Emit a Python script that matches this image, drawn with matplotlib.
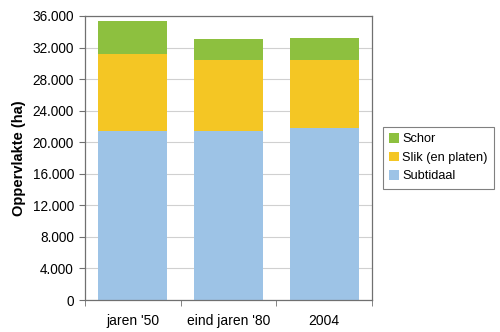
import matplotlib.pyplot as plt
from matplotlib.ticker import FuncFormatter, FixedLocator

plt.rcParams["font.family"] = ["Liberation Sans", "DejaVu Sans"]

categories = ["jaren '50", "eind jaren '80", "2004"]
subtidaal = [21450, 21450, 21750]
slik = [9770, 8970, 8670]
schor = [4150, 2630, 2790]

c_sub = "#9dc3e6"
c_slik = "#f4c624"
c_schor = "#8dc03f"

fig = plt.figure(figsize=(5.0, 3.32), dpi=100)
ax = fig.add_axes([85 / 500, 32 / 332, 287 / 500, 284 / 332])

x = range(len(categories))
b1 = ax.bar(x, subtidaal, width=0.72, color=c_sub, label="Subtidaal", zorder=2)
b2 = ax.bar(x, slik, width=0.72, bottom=subtidaal, color=c_slik, label="Slik (en platen)", zorder=2)
bottom3 = [a + b for a, b in zip(subtidaal, slik)]
b3 = ax.bar(x, schor, width=0.72, bottom=bottom3, color=c_schor, label="Schor", zorder=2)

ax.set_xlim(-0.5, 2.5)
ax.set_ylim(0, 36000)
ax.set_yticks(range(0, 36001, 4000))
ax.yaxis.set_major_formatter(FuncFormatter(lambda v, p: f"{int(v):,}".replace(",", ".")))
ax.yaxis.grid(True, color="#d0d0d0", linewidth=0.8, zorder=0)
ax.set_axisbelow(True)

ax.set_xticks(list(x))
ax.set_xticklabels(categories)
ax.tick_params(axis="x", length=0, pad=10, labelsize=10)
ax.xaxis.set_minor_locator(FixedLocator([-0.5, 0.5, 1.5, 2.5]))
ax.tick_params(axis="x", which="minor", length=4, color="#707070")
ax.tick_params(axis="y", length=4, color="#707070", labelsize=9.8, pad=4)

for s in ax.spines.values():
    s.set_color("#707070")
    s.set_linewidth(0.9)

ax.set_ylabel("Oppervlakte (ha)", fontsize=10.5, fontweight="bold")
ax.yaxis.set_label_coords(-0.205, 0.5)

leg = ax.legend(handles=[b3, b2, b1], loc="upper left", bbox_to_anchor=(1.037, 0.61),
                frameon=True, fancybox=False, edgecolor="#606060", fontsize=9.2,
                handlelength=0.75, handleheight=0.75, handletextpad=0.3,
                borderpad=0.5, labelspacing=0.5, borderaxespad=0)
leg.get_frame().set_linewidth(0.8)

fig.savefig("out.png", dpi=100)
